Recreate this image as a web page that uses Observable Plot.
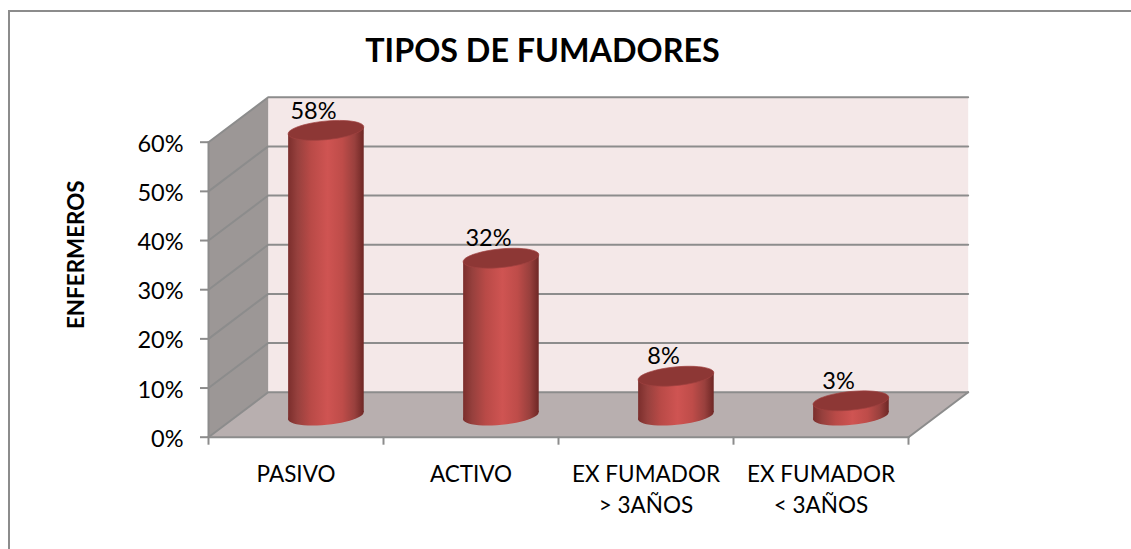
<!DOCTYPE html>
<html><head><meta charset="utf-8">
<script src="https://cdn.jsdelivr.net/npm/d3@7"></script>
<script src="https://cdn.jsdelivr.net/npm/@observablehq/plot@0.6"></script>
<style>
html,body{margin:0;padding:0;background:#fff;overflow:hidden}
#frame{position:absolute;left:8px;top:10px;right:0;bottom:0;border-left:2px solid #8c8c8c;border-top:2px solid #8c8c8c}
#title{position:absolute;left:0;width:1085px;top:30px;text-align:center;font:bold 32.3px Lato,sans-serif;color:#000;line-height:40px}
#chart{position:absolute;left:0;top:0}
</style></head><body>
<div id="frame"></div>
<div id="chart"></div>
<div id="title"></div>
<script>
const chartTitle = "TIPOS DE FUMADORES";
const axisTitle = "ENFERMEROS";
const categories = ["PASIVO", "ACTIVO", "EX FUMADOR\n> 3AÑOS", "EX FUMADOR\n< 3AÑOS"];
const values = [58, 32, 8, 3];
const yTicks = [0, 10, 20, 30, 40, 50, 60];
const xEdges = [0, 1, 2, 3, 4];
const xMax = 4, yMax = 60;
// depth of the 3D box, in data units
const depthX = 0.341, depthY = 9.15;
// placement of the cylinder axis inside the box
const midX = 0.671, midY = 4.4;
const halfW = 0.216, tilt = 0.71;
const rx = 38, ry = 9.3, theta = -5.6 * Math.PI / 180;

const ellipse = {draw(ctx) {
  const n = 48;
  for (let i = 0; i < n; i++) {
    const t = i / n * 2 * Math.PI;
    const px = rx * Math.cos(t), py = ry * Math.sin(t);
    const X = px * Math.cos(theta) - py * Math.sin(theta);
    const Y = px * Math.sin(theta) + py * Math.cos(theta);
    i ? ctx.lineTo(X, Y) : ctx.moveTo(X, Y);
  }
  ctx.closePath();
}};

const backWall = [[depthX, depthY], [xMax + depthX, depthY], [xMax + depthX, yMax + depthY], [depthX, yMax + depthY]];
const floor = [[0, 0], [xMax, 0], [xMax + depthX, depthY], [depthX, depthY]];
const sideWall = [[0, 0], [depthX, depthY], [depthX, yMax + depthY], [0, yMax]];
const gridRows = yTicks.flatMap(v => [
  {v, x: 0, y: v}, {v, x: depthX, y: v + depthY}, {v, x: xMax + depthX, y: v + depthY}
]);
const bars = values.map((v, i) => ({v, cx: i + midX, i}));
// cylinder side as a slanted quadrilateral
const sides = bars.flatMap(b => [
  {i: b.i, x: b.cx - halfW, y: b.v + midY - tilt},
  {i: b.i, x: b.cx + halfW, y: b.v + midY + tilt},
  {i: b.i, x: b.cx + halfW, y: midY + tilt},
  {i: b.i, x: b.cx - halfW, y: midY - tilt}
]);

const gridColor = "#8c8c8c";
const font = "Lato, sans-serif";
const px = d => d[0], py = d => d[1];

const plot = Plot.plot({
  width: 1131, height: 549,
  marginLeft: 208, marginRight: 223, marginTop: 141.7, marginBottom: 112.3,
  style: {background: "transparent", fontFamily: font, color: "#000", overflow: "visible"},
  x: {domain: [0, xMax], axis: null},
  y: {domain: [0, yMax], axis: null},
  marks: [
    Plot.line(backWall, {x: px, y: py, fill: "#f4e8e8", stroke: "none"}),
    Plot.line(floor, {x: px, y: py, fill: "#b8afaf", stroke: "none"}),
    Plot.line(sideWall, {x: px, y: py, fill: "#9c9796", stroke: "none"}),
    Plot.line(gridRows, {x: "x", y: "y", z: "v", stroke: gridColor, strokeWidth: 2}),
    Plot.line([[0, 0], [0, yMax]], {x: px, y: py, stroke: gridColor, strokeWidth: 2}),
    Plot.line([[xMax, 0], [xMax + depthX, depthY]], {x: px, y: py, stroke: gridColor, strokeWidth: 2}),
    Plot.line([[0, 0], [xMax, 0]], {x: px, y: py, stroke: gridColor, strokeWidth: 2}),
    Plot.axisY(yTicks, {anchor: "left", tickSize: 8, tickFormat: () => null, stroke: gridColor, strokeWidth: 2, label: null}),
    Plot.axisY(yTicks, {anchor: "left", tickSize: 0, tickPadding: 25, dy: 2, tickFormat: d => d + "%", fontSize: 23.5, fill: "#000", label: null}),
    Plot.axisX(xEdges, {anchor: "bottom", tickSize: 8, tickFormat: () => null, stroke: gridColor, strokeWidth: 2, label: null}),
    Plot.axisX([0.5, 1.5, 2.5, 3.5], {anchor: "bottom", tickSize: 0, tickPadding: 22.5, tickFormat: d => categories[Math.floor(d)], fontSize: 22.5, lineHeight: 1.38, fill: "#000", label: null}),
    Plot.dot(bars, {x: "cx", y: () => midY, symbol: ellipse, r: 10, fill: "url(#cyl)", stroke: "none"}),
    Plot.line(sides, {x: "x", y: "y", z: "i", fill: "url(#cyl)", stroke: "none"}),
    Plot.dot(bars, {x: "cx", y: d => d.v + midY, symbol: ellipse, r: 10, fill: "#8d3735", stroke: "#a04240", strokeWidth: 0.7}),
    Plot.text(values, {x: (d, i) => i + 0.6, y: d => d, dy: -41, text: d => d + "%", fontSize: 23.5, fill: "#000", textAnchor: "middle"}),
    Plot.text([axisTitle], {frameAnchor: "left", dx: -132, dy: -35, rotate: -90, textAnchor: "middle", fontWeight: "bold", fontSize: 22.4, fill: "#000", text: d => d})
  ]
});

const defs = d3.select(plot).append("defs");
const grad = defs.append("linearGradient").attr("id", "cyl").attr("x1", 0).attr("x2", 1).attr("y1", 0).attr("y2", 0);
[[0, "#7b2e2c"], [0.12, "#96403d"], [0.3, "#b94a47"], [0.52, "#cf5452"], [0.72, "#be4c49"], [0.88, "#99403d"], [1, "#6e2725"]]
  .forEach(([o, c]) => grad.append("stop").attr("offset", o).attr("stop-color", c));
document.getElementById("chart").append(plot);
document.getElementById("title").textContent = chartTitle;
</script>
</body></html>
